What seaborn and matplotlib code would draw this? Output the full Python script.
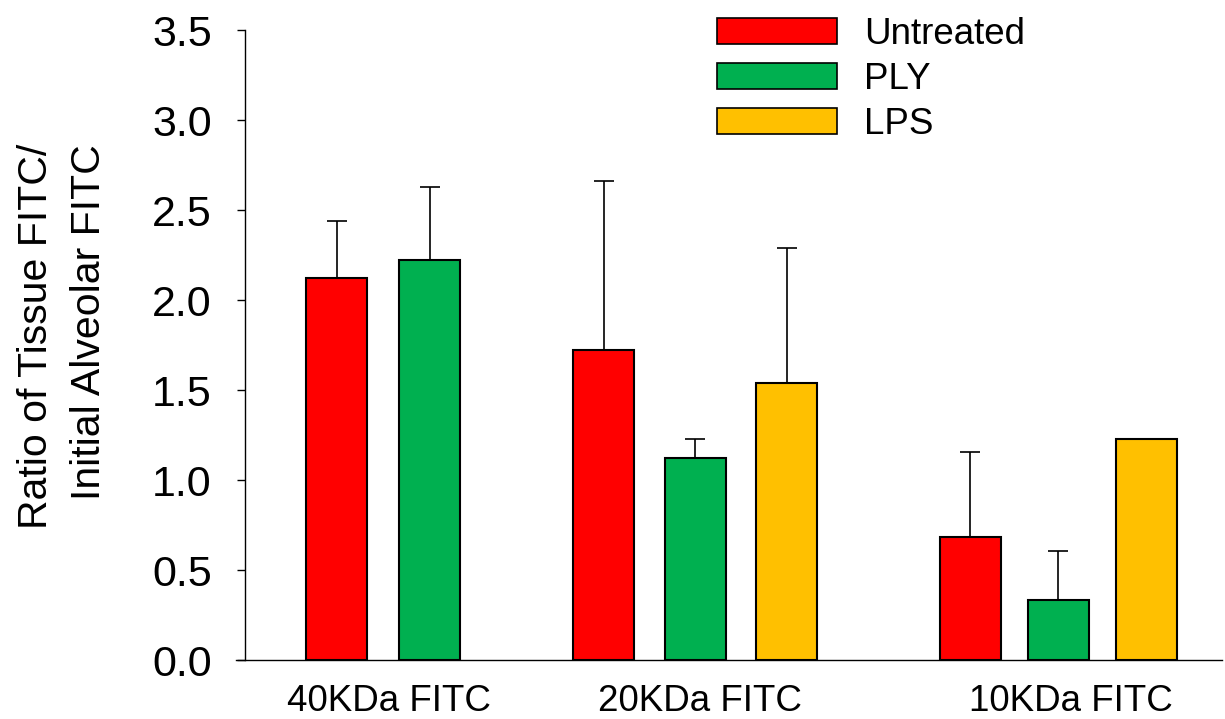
import numpy as np
import pandas as pd
import matplotlib
matplotlib.use("Agg")
import matplotlib.pyplot as plt
import seaborn as sns
from matplotlib.patches import Patch

# values (mean and upper SD)
groups = ["40KDa FITC", "20KDa FITC", "10KDa FITC"]
treatments = ["Untreated", "PLY", "LPS"]
untreated = [2.12, 1.72, 0.685]
ply = [2.22, 1.12, 0.333]
lps = [np.nan, 1.54, 1.23]
untreated_sd = [0.32, 0.94, 0.47]
ply_sd = [0.41, 0.11, 0.27]
lps_sd = [np.nan, 0.75, 0.0]

colors = {"Untreated": "#FF0000", "PLY": "#00B050", "LPS": "#FFC000"}

# layout (x axis runs in figure-pixel-like units)
group_center = [383, 695, 1058]
slot = [93, 91.5, 88]
tick_pos = [389, 700, 1071]
bar_px = 61

rows = []
means = [untreated, ply, lps]
sds = [untreated_sd, ply_sd, lps_sd]
for g, name in enumerate(groups):
    present = [t for t, m in zip(treatments, means) if not np.isnan(m[g])]
    offs = np.arange(len(present)) - (len(present) - 1) / 2
    for t, o in zip(present, offs):
        i = treatments.index(t)
        rows.append({"group": name, "treatment": t,
                     "x": group_center[g] + o * slot[g],
                     "value": means[i][g], "sd": sds[i][g]})
df = pd.DataFrame(rows)

sns.set_style("ticks")
plt.rcParams["font.family"] = ["Liberation Sans", "DejaVu Sans"]
plt.rcParams.update({"text.color": "black", "axes.labelcolor": "black",
                     "xtick.color": "black", "ytick.color": "black"})

fig = plt.figure(figsize=(12.25, 7.19), dpi=100)
ax = fig.add_axes([236 / 1225, 59 / 719, (1222 - 236) / 1225, 630 / 719])

min_gap = np.diff(np.sort(df["x"].unique())).min()
sns.barplot(data=df, x="x", y="value", hue="treatment", palette=colors,
            hue_order=treatments, native_scale=True, dodge=False,
            width=bar_px / min_gap, errorbar=None, edgecolor="black",
            linewidth=1.5, saturation=1, legend=False, ax=ax)

err = df[df["sd"] > 0]
ax.errorbar(err["x"], err["value"], yerr=[np.zeros(len(err)), err["sd"]],
            fmt="none", ecolor="black", elinewidth=1.2, capsize=7.2,
            capthick=1.2, zorder=1)

# spine position first: it resets the ticks
ax.spines["right"].set_visible(False)
ax.spines["top"].set_visible(False)
ax.spines["left"].set_position(("data", 245))
for s in ["left", "bottom"]:
    ax.spines[s].set_linewidth(1)
    ax.spines[s].set_color("black")

ax.set_xlim(236, 1222)
ax.set_ylim(0, 3.5)
ax.set_yticks(np.arange(0, 3.51, 0.5))
ax.set_yticklabels([f"{v:.1f}" for v in np.arange(0, 3.51, 0.5)], fontsize=31)
ax.set_xticks(tick_pos)
ax.set_xticklabels(groups, fontsize=26.5)
ax.tick_params(axis="x", length=0, pad=17)
ax.tick_params(axis="y", direction="out", length=6, width=1, pad=18)
ax.set_xlabel("")
ax.set_ylabel("Ratio of Tissue FITC/\nInitial Alveolar FITC", fontsize=29.5,
              linespacing=1.5, multialignment="right")
ax.yaxis.set_label_coords(-0.130, 0.513)

handles = [Patch(facecolor=colors[t], edgecolor="black", linewidth=1.2)
           for t in treatments]
fig.legend(handles, treatments, loc="upper left",
           bbox_to_anchor=(717 / 1225, 1 - 17 / 719), frameon=False,
           fontsize=26.5, handlelength=3.27, handleheight=0.7,
           handletextpad=0.73, labelspacing=0.27, borderpad=0,
           borderaxespad=0)

fig.savefig("out.png", dpi=100)
